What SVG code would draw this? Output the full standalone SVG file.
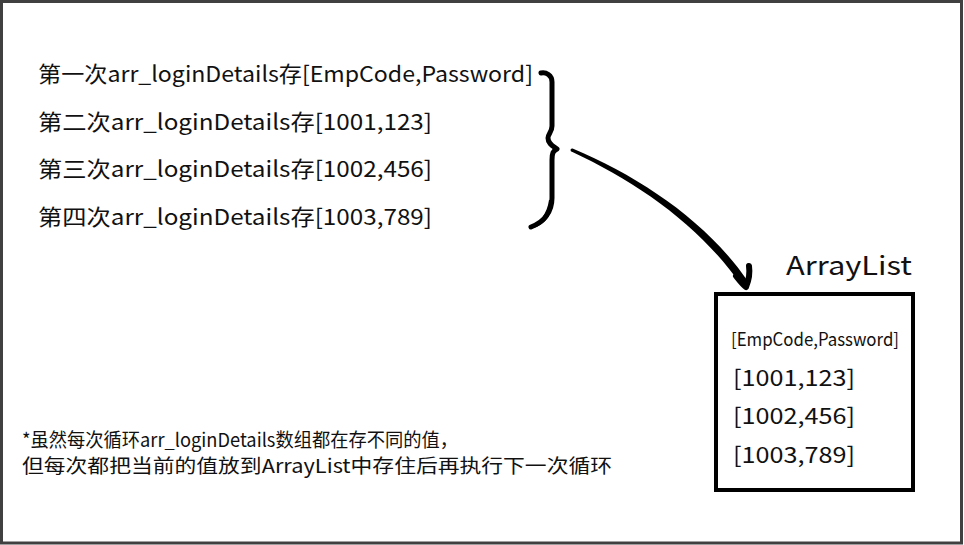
<svg xmlns="http://www.w3.org/2000/svg" width="964" height="545" viewBox="0 0 964 545">
<style>
  .t { font-family: "Noto Sans CJK SC", "Noto Sans", sans-serif; fill: #111; }
  .l { font-size: 22px; }
  .n { font-size: 19px; }
  .ink { fill: none; stroke: #000; stroke-linecap: round; stroke-linejoin: round; }
</style>
<rect x="1.5" y="1.5" width="960" height="541.5" fill="#fff" stroke="#404040" stroke-width="3"/>
<g id="loop-values">
  <text class="t l" x="38" y="82" textLength="495" lengthAdjust="spacingAndGlyphs">第一次arr_loginDetails存[EmpCode,Password]</text>
  <text class="t l" x="38" y="130" textLength="394" lengthAdjust="spacingAndGlyphs">第二次arr_loginDetails存[1001,123]</text>
  <text class="t l" x="38" y="177" textLength="394" lengthAdjust="spacingAndGlyphs">第三次arr_loginDetails存[1002,456]</text>
  <text class="t l" x="38" y="225" textLength="394" lengthAdjust="spacingAndGlyphs">第四次arr_loginDetails存[1003,789]</text>
</g>
<g id="arraylist">
  <text class="t" x="786" y="275" font-size="26" textLength="126" lengthAdjust="spacingAndGlyphs">ArrayList</text>
  <rect x="716" y="294" width="197" height="196" fill="none" stroke="#000" stroke-width="4"/>
  <text class="t" x="731" y="346" font-size="18" textLength="168" lengthAdjust="spacingAndGlyphs">[EmpCode,Password]</text>
  <text class="t l" x="733" y="386" textLength="122" lengthAdjust="spacingAndGlyphs">[1001,123]</text>
  <text class="t l" x="733" y="424" textLength="122" lengthAdjust="spacingAndGlyphs">[1002,456]</text>
  <text class="t l" x="733" y="463" textLength="122" lengthAdjust="spacingAndGlyphs">[1003,789]</text>
</g>
<g id="note">
  <text class="t n" x="22" y="447" textLength="436" lengthAdjust="spacingAndGlyphs">*虽然每次循环arr_loginDetails数组都在存不同的值，</text>
  <text class="t n" x="22" y="473" textLength="590" lengthAdjust="spacingAndGlyphs">但每次都把当前的值放到ArrayList中存住后再执行下一次循环</text>
</g>
<g id="connectors">
  <path class="ink" stroke-width="5" d="M541,73 C546,72 552,75 552,82 L552,126 C552,132 548,134 548,138 C548,144 553,146 557,149 C553,151 552,153 552,160 L552,198 C552,212 544,222 531,227"/>
  <path d="M552,200 C553,214 546,226 529,229 C540,222 547,214 549,200 Z" fill="#000"/>
  <path d="M572.6,148.6 C641.2,177.4 708,222.6 748.2,281.8 L741.8,286.2 C702,227.4 638.8,182.6 571.4,151.4 Z" fill="#000"/>
  <circle cx="572" cy="150" r="1.5" fill="#000"/>
  <path class="ink" stroke-width="6" d="M736,276 C740,281 743,285 746,287 C749,280 750,273 749,266"/>
</g>
</svg>
